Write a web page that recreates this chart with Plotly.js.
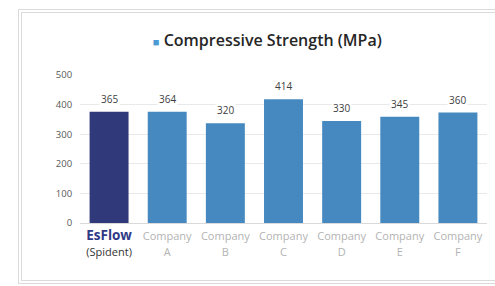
<!DOCTYPE html>
<html><head><meta charset="utf-8">
<script src="https://cdn.plot.ly/plotly-3.0.1.min.js"></script>
<style>
html,body{margin:0;padding:0;background:#fff;overflow:hidden;}
#wrap{position:relative;width:495px;height:286px;overflow:hidden;}
#frame{position:absolute;left:18px;top:9px;width:520px;height:267px;border:4px double #dadada;}
#chart{position:absolute;left:0;top:0;width:495px;height:286px;}
</style></head>
<body>
<div id="wrap">
<div id="frame"></div>
<div id="chart"></div>
</div>
<script>
const categories = ["EsFlow (Spident)", "Company A", "Company B", "Company C", "Company D", "Company E", "Company F"];
const tickLabels = [
  '<span style="font-size:13.5px;color:#2f3a86"><b>EsFlow</b></span><br><span style="font-size:11px;color:#333333">(Spident)</span>',
  '<span style="font-size:11px">Company</span><br><span style="font-size:11px">A</span>',
  '<span style="font-size:11px">Company</span><br><span style="font-size:11px">B</span>',
  '<span style="font-size:11px">Company</span><br><span style="font-size:11px">C</span>',
  '<span style="font-size:11px">Company</span><br><span style="font-size:11px">D</span>',
  '<span style="font-size:11px">Company</span><br><span style="font-size:11px">E</span>',
  '<span style="font-size:11px">Company</span><br><span style="font-size:11px">F</span>'
];
const barHeights = [376, 376, 337, 418, 345, 359, 373];
const valueLabels = ["365", "364", "320", "414", "330", "345", "360"];
const barColors = ["#30397a", "#4689c0", "#4689c0", "#4689c0", "#4689c0", "#4689c0", "#4689c0"];

const trace = {
  type: 'bar', x: categories, y: barHeights,
  marker: {color: barColors, line: {width: 0}},
  hoverinfo: 'none', showlegend: false
};
const annotations = categories.map((c, i) => ({
  x: c, y: barHeights[i], text: valueLabels[i], showarrow: false,
  yanchor: 'bottom', yshift: 4, bgcolor: '#ffffff', borderpad: 1,
  font: {size: 10, color: '#404040', family: 'Open Sans'}
}));
const layout = {
  width: 495, height: 286,
  margin: {l: 80, r: 8, t: 75, b: 63, pad: 0},
  paper_bgcolor: 'rgba(0,0,0,0)', plot_bgcolor: '#ffffff',
  bargap: 0.33,
  title: {
    text: '<span style="font-size:11px;color:#4a9ad4">■</span> Compressive Strength (MPa)',
    x: 0.54, xanchor: 'center', y: 0.86, yanchor: 'middle',
    font: {family: 'Open Sans', size: 16, color: '#262626', weight: 600}
  },
  xaxis: {
    tickmode: 'array', tickvals: categories, ticktext: tickLabels,
    tickfont: {family: 'Open Sans', size: 12.5, color: '#b3b3b3'},
    ticks: 'outside', ticklen: 1, tickcolor: 'rgba(0,0,0,0)',
    showgrid: false, zeroline: false, showline: false, fixedrange: true
  },
  yaxis: {
    range: [0, 500], tickvals: [0, 100, 200, 300, 400, 500], ticks: 'outside', ticklen: 5, tickcolor: 'rgba(0,0,0,0)',
    tickfont: {family: 'Open Sans', size: 9.5, color: '#595959'},
    gridcolor: '#e9e9e9', gridwidth: 1, zeroline: true, zerolinecolor: '#d9d9d9', zerolinewidth: 1,
    showline: false, fixedrange: true
  },
  annotations: annotations
};
Plotly.newPlot('chart', [trace], layout, {displayModeBar: false, staticPlot: true});
</script>
</body></html>
